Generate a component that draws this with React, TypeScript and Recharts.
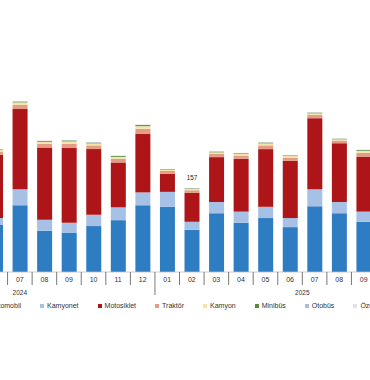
import {BarChart, Bar, XAxis, YAxis, LabelList} from "recharts"

const aylar = ["06", "07", "08", "09", "10", "11", "12", "01", "02", "03", "04", "05", "06", "07", "08", "09"]
const yillar = ["2024", "2024", "2024", "2024", "2024", "2024", "2024", "2025", "2025", "2025", "2025", "2025", "2025", "2025", "2025", "2025"]

const otomobil = [88, 125, 77, 73, 86, 97, 125, 122, 79, 110, 92, 101, 84, 123, 110, 94]
const kamyonet = [13, 30, 21, 19, 21, 24, 24, 28, 15, 21, 21, 21, 17, 32, 21, 19]
const motosiklet = [118, 150, 135, 140, 123, 84, 110, 34, 54, 84, 99, 108, 107, 133, 110, 103]
const traktor = [6, 8, 7, 8, 7, 7, 9, 5, 5, 6, 6, 7, 6, 6, 5, 7]
const kamyon = [3, 4.5, 3.8, 4.5, 3.8, 3.6, 5, 2.4, 2.4, 3, 3, 3.8, 3, 3, 2.4, 3.8]
const minibus = [1.2, 1.5, 1.4, 1.7, 1.4, 1.6, 2, 1, 1, 1.2, 1.2, 1.4, 1.2, 1.2, 1, 1.4]
const otobus = [0.4, 0.5, 0.4, 0.4, 0.4, 0.4, 0.5, 0.3, 0.3, 0.4, 0.4, 0.4, 0.4, 0.4, 0.3, 0.4]
const ozel = [0.4, 0.5, 0.4, 0.4, 0.4, 0.4, 0.5, 0.3, 0.3, 0.4, 0.4, 0.4, 0.4, 0.4, 0.3, 0.4]
// only one total is printed on the chart
const etiket = [null, null, null, null, null, null, null, null, 157, null, null, null, null, null, null, null]

const seriler = [
    {key: "otomobil", ad: "Otomobil", renk: "#2e7dc2", deger: otomobil},
    {key: "kamyonet", ad: "Kamyonet", renk: "#a7c0e6", deger: kamyonet},
    {key: "motosiklet", ad: "Motosiklet", renk: "#ad1518", deger: motosiklet},
    {key: "traktor", ad: "Traktör", renk: "#e59c86", deger: traktor},
    {key: "kamyon", ad: "Kamyon", renk: "#f5e4a8", deger: kamyon},
    {key: "minibus", ad: "Minibüs", renk: "#5b8a3c", deger: minibus},
    {key: "otobus", ad: "Otobüs", renk: "#a9bcd8", deger: otobus},
    {key: "ozel", ad: "Özel amaçlı", renk: "#dfe5ee", deger: ozel},
]

const data = aylar.map((ay, i) => {
    const row: any = {ay: ay + "-" + yillar[i], etiket: etiket[i]}
    seriler.forEach(s => { row[s.key] = s.deger[i] })
    return row
})

const W = 393
const STEP = W / aylar.length
const FONT = "'Liberation Sans', Arial, sans-serif"

function AyTick(props: any) {
    const {x, y, payload} = props
    const [ay, yil] = String(payload.value).split("-")
    const sol = x - STEP / 2
    const yilBasi = ay === "01"
    return (
        <g>
            <line x1={sol} x2={sol} y1={y - 8} y2={yilBasi ? y + 15 : y + 5} stroke="#555" strokeWidth={0.8} />
            <text x={x} y={y + 2} textAnchor="middle" fontSize={7} fill="#333" fontFamily={FONT}>{ay}</text>
            {ay === "07" && (
                <text x={yil === "2025" ? x - STEP / 2 : x} y={y + 15} textAnchor="middle" fontSize={6.5} fill="#333" fontFamily={FONT}>{yil}</text>
            )}
        </g>
    )
}

function Etiket(props: any) {
    const {x, y, width, value} = props
    if (value == null) return null
    return <text x={x + width / 2} y={y - 8} textAnchor="middle" fontSize={6.3} fill="#222" fontFamily={FONT}>{value}</text>
}

export default function App() {
    return (
        <div style={{position: "absolute", left: 0, top: 0, width: 370, height: 380, overflow: "hidden", background: "#fff"}}>
            <div style={{position: "absolute", left: -17, top: 0}}>
                <BarChart width={W} height={380} data={data} margin={{top: 85, right: 0, left: 0, bottom: 78}} barSize={15}>
                    <XAxis
                        dataKey="ay"
                        interval={0}
                        height={30}
                        tickLine={false}
                        axisLine={{stroke: "#bfbfbf", strokeWidth: 0.8}}
                        tick={<AyTick />}
                    />
                    <YAxis hide domain={[0, 350]} />
                    {seriler.map(s => (
                        <Bar key={s.key} dataKey={s.key} stackId="a" fill={s.renk} isAnimationActive={false}>
                            {s.key === "ozel" && <LabelList dataKey="etiket" content={<Etiket />} />}
                        </Bar>
                    ))}
                </BarChart>
            </div>
            <div style={{position: "absolute", left: -14, top: 302, display: "flex", alignItems: "center", whiteSpace: "nowrap", fontFamily: FONT, fontSize: 7, color: "#333"}}>
                {seriler.map(s => (
                    <div key={s.key} style={{display: "flex", alignItems: "center", marginRight: 19}}>
                        <span style={{display: "inline-block", width: 4, height: 4, background: s.renk, marginRight: 3}} />
                        <span>{s.ad}</span>
                    </div>
                ))}
            </div>
        </div>
    )
}
